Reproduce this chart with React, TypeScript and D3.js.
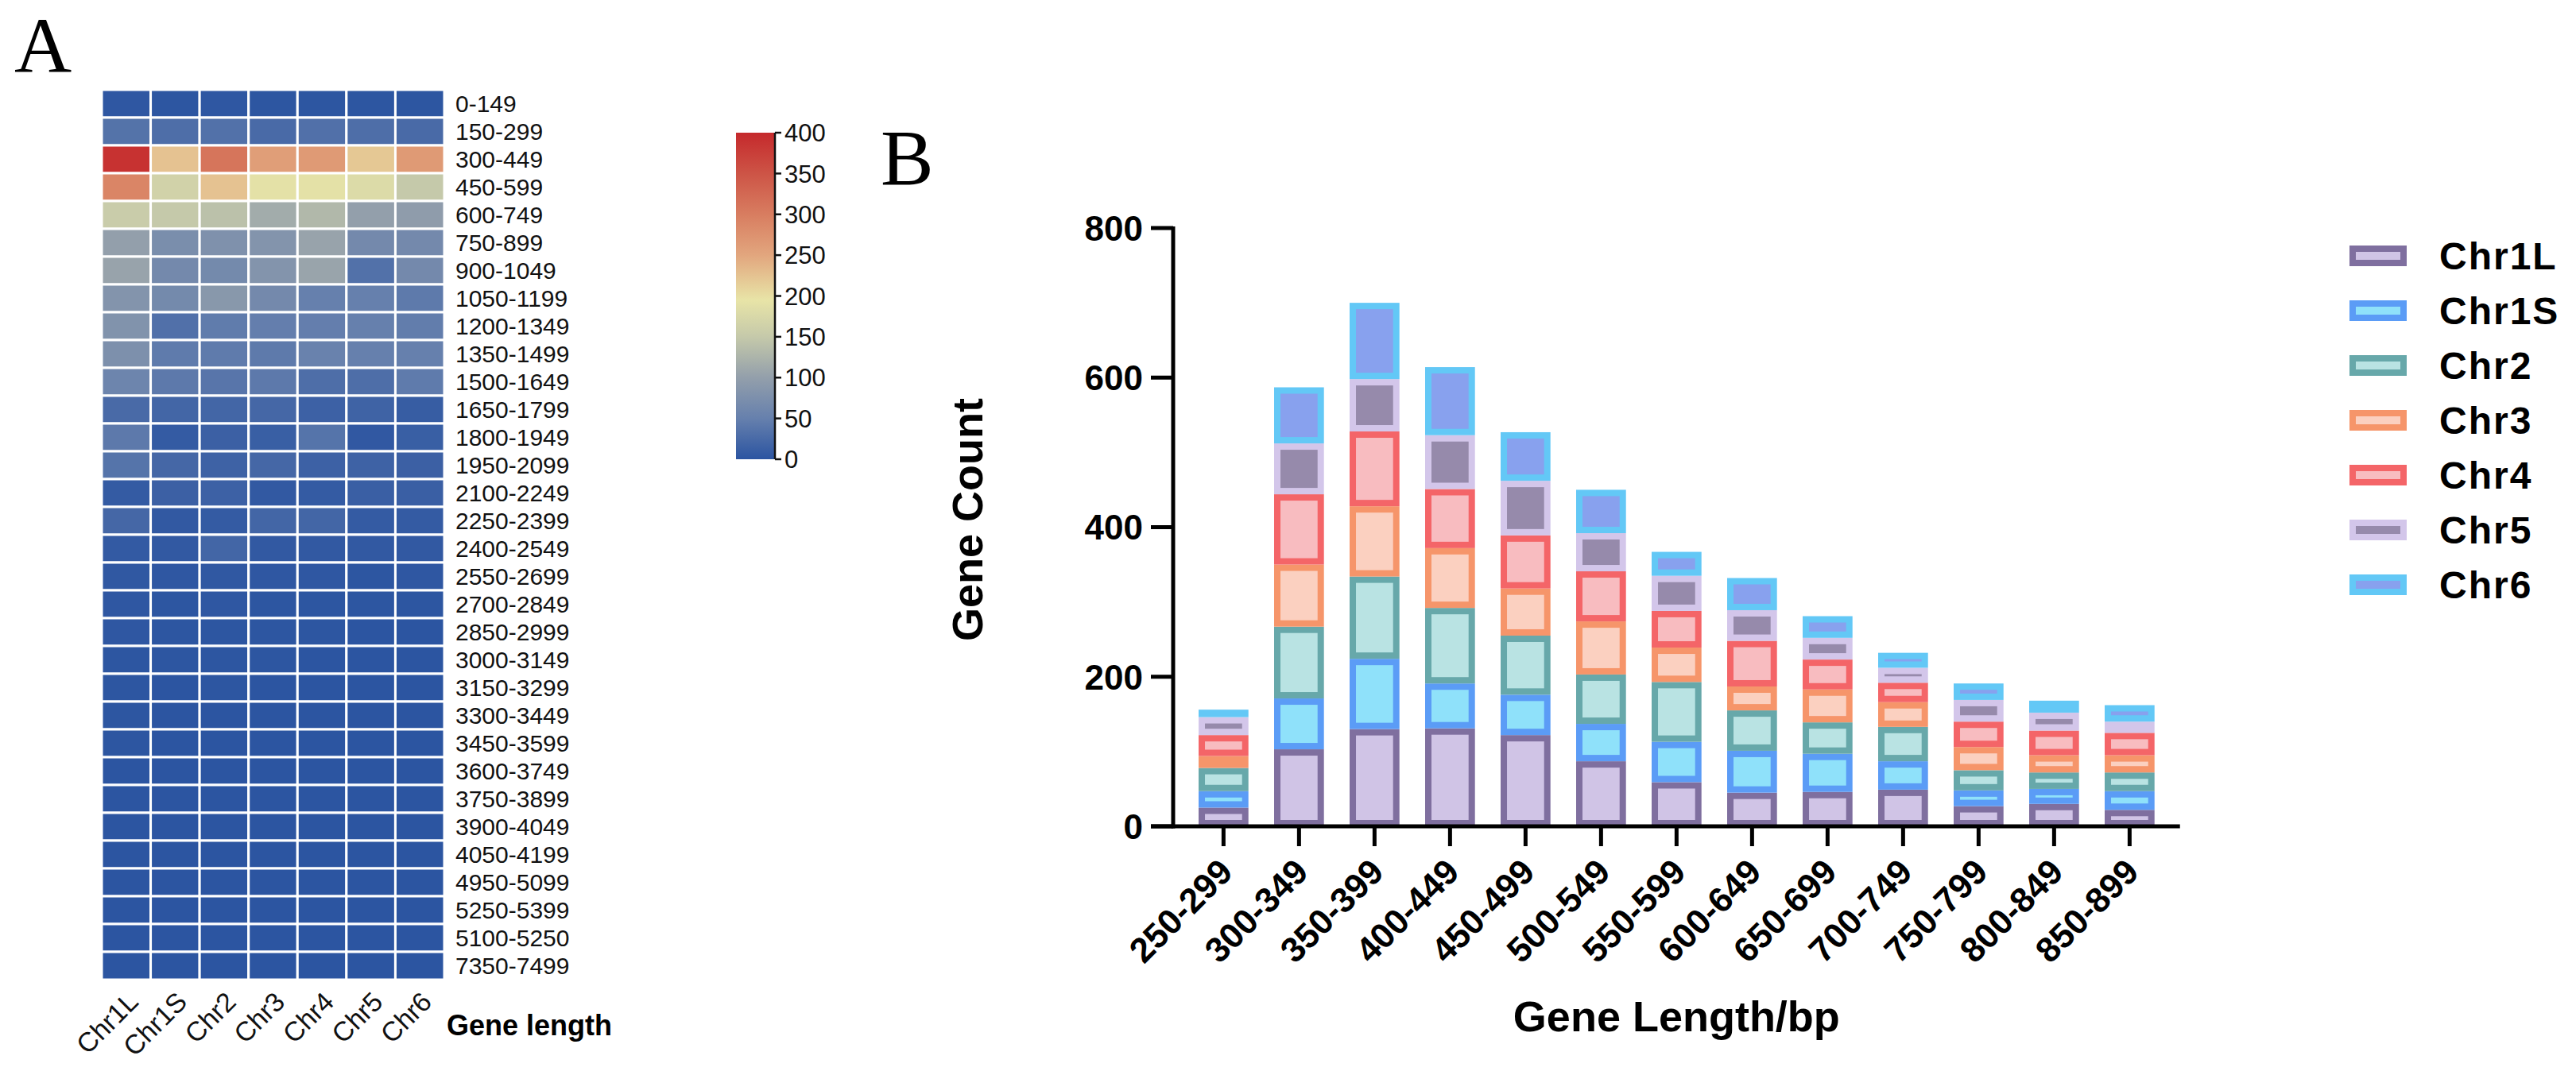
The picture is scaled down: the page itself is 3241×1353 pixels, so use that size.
import * as d3 from "d3";

// ---------- panel A: heatmap data ----------
const chromosomes = ["Chr1L", "Chr1S", "Chr2", "Chr3", "Chr4", "Chr5", "Chr6"];

const lengthBins = [
  "0-149", "150-299", "300-449", "450-599", "600-749", "750-899", "900-1049",
  "1050-1199", "1200-1349", "1350-1499", "1500-1649", "1650-1799", "1800-1949",
  "1950-2099", "2100-2249", "2250-2399", "2400-2549", "2550-2699", "2700-2849",
  "2850-2999", "3000-3149", "3150-3299", "3300-3449", "3450-3599", "3600-3749",
  "3750-3899", "3900-4049", "4050-4199", "4950-5099", "5250-5399", "5100-5250",
  "7350-7499",
];

const heatChr1L = [3, 35, 390, 290, 155, 100, 105, 82, 80, 75, 58, 25, 42, 36, 8, 22, 7, 4, 3, 3, 2, 2, 2, 2, 1, 1, 1, 1, 1, 1, 1, 1];
const heatChr1S = [2, 30, 225, 165, 150, 72, 65, 66, 32, 44, 42, 20, 8, 22, 14, 6, 6, 3, 2, 2, 2, 1, 1, 1, 1, 1, 1, 1, 1, 1, 1, 1];
const heatChr2 = [3, 33, 310, 225, 140, 78, 66, 88, 45, 44, 38, 20, 14, 16, 15, 8, 20, 4, 3, 2, 2, 2, 1, 1, 1, 1, 1, 1, 1, 1, 1, 1];
const heatChr3 = [2, 25, 260, 190, 115, 82, 82, 65, 48, 43, 42, 22, 12, 22, 6, 20, 6, 3, 2, 2, 2, 1, 1, 1, 1, 1, 1, 1, 1, 1, 1, 1];
const heatChr4 = [2, 32, 265, 190, 130, 105, 106, 50, 48, 53, 30, 15, 36, 15, 8, 20, 6, 3, 2, 2, 1, 1, 1, 1, 1, 1, 1, 1, 1, 1, 1, 1];
const heatChr5 = [2, 30, 220, 180, 100, 65, 33, 50, 50, 50, 30, 17, 5, 16, 13, 8, 6, 2, 2, 1, 1, 1, 1, 1, 1, 1, 1, 1, 1, 1, 1, 1];
const heatChr6 = [2, 25, 265, 150, 95, 65, 65, 43, 47, 50, 44, 10, 12, 14, 13, 8, 6, 3, 2, 1, 1, 1, 1, 1, 1, 1, 1, 1, 1, 1, 1, 1];
const heatColumns = [heatChr1L, heatChr1S, heatChr2, heatChr3, heatChr4, heatChr5, heatChr6];

const legendTicks = [0, 50, 100, 150, 200, 250, 300, 350, 400];
const colorStops = [0, 50, 100, 150, 195, 250, 300, 350, 400];
const colorRange = ["#2b54a1", "#6680ad", "#939fab", "#c5c9aa", "#e8e4a7", "#e2a67e", "#d87d60", "#cd5446", "#c5292c"];

// ---------- panel B: stacked bar data ----------
const barBins = [
  "250-299", "300-349", "350-399", "400-449", "450-499", "500-549", "550-599",
  "600-649", "650-699", "700-749", "750-799", "800-849", "850-899",
];
const barChr1L = [25, 103, 130, 131, 122, 87, 59, 45, 46, 49, 27, 30, 22];
const barChr1S = [22, 68, 94, 60, 54, 50, 54, 56, 51, 38, 21, 20, 25];
const barChr2 = [31, 96, 110, 101, 79, 66, 80, 54, 42, 46, 27, 22, 25];
const barChr3 = [16, 83, 94, 80, 63, 71, 46, 32, 44, 33, 31, 23, 23];
const barChr4 = [28, 94, 100, 79, 71, 67, 49, 61, 40, 26, 34, 33, 30];
const barChr5 = [24, 68, 70, 72, 73, 51, 47, 41, 29, 20, 29, 24, 15];
const barChr6 = [10, 75, 102, 91, 65, 58, 32, 43, 29, 20, 22, 16, 22];
const barSeries = [barChr1L, barChr1S, barChr2, barChr3, barChr4, barChr5, barChr6];
const yTicks = [0, 200, 400, 600, 800];

const fills = ["#d0c4e6", "#8fe1fa", "#b9e3e3", "#fbd0c0", "#f8bcc0", "#968aab", "#88a1ee"];
const strokes = ["#7f6f9f", "#5b9cf6", "#67a8aa", "#f6956a", "#f46568", "#d3c6ea", "#63c8f6"];

const W = 3241;
const H = 1353;
const SANS = "'Liberation Sans', Arial, sans-serif";
const SERIF = "'Liberation Serif', 'Times New Roman', serif";

function Heatmap() {
  const left = 128, top = 113, right = 559, bottom = 1233;
  const x = d3.scaleBand<string>().domain(chromosomes).range([left, right]);
  const y = d3.scaleBand<string>().domain(lengthBins).range([top, bottom]);
  const color = d3.scaleLinear<string>().domain(colorStops).range(colorRange).clamp(true);

  const cbX = 926, cbW = 49;
  const cb = d3.scaleLinear().domain([0, 400]).range([578, 167]);

  return (
    <g>
      <text x={18} y={91} fontFamily={SERIF} fontSize={100}>A</text>
      {chromosomes.map((c, ci) =>
        lengthBins.map((b, ri) => (
          <rect key={c + b} x={x(c)} y={y(b)} width={x.bandwidth()} height={y.bandwidth()}
            fill={color(heatColumns[ci][ri])} stroke="#ffffff" strokeWidth={3} />
        ))
      )}
      {lengthBins.map((b) => (
        <text key={b} x={right + 14} y={(y(b) ?? 0) + y.bandwidth() / 2} dy="0.36em"
          fontFamily={SANS} fontSize={30} fill="#111">{b}</text>
      ))}
      {chromosomes.map((c) => {
        const cx = (x(c) ?? 0) + x.bandwidth() / 2 + 17;
        return (
          <text key={c} transform={`translate(${cx},${bottom + 30}) rotate(-45)`} textAnchor="end"
            fontFamily={SANS} fontSize={34} fill="#111">{c}</text>
        );
      })}
      <text x={562} y={1303} fontFamily={SANS} fontWeight="bold" fontSize={36}>Gene length</text>

      <defs>
        <linearGradient id="heatGrad" x1="0" y1="1" x2="0" y2="0">
          {colorStops.map((s, i) => (
            <stop key={s} offset={`${(s / 400) * 100}%`} stopColor={colorRange[i]} />
          ))}
        </linearGradient>
      </defs>
      <rect x={cbX} y={cb(400)} width={cbW} height={cb(0) - cb(400)} fill="url(#heatGrad)" />
      <line x1={cbX + cbW} x2={cbX + cbW} y1={cb(400)} y2={cb(0)} stroke="#111" strokeWidth={2.5} />
      {legendTicks.map((t) => (
        <g key={t}>
          <line x1={cbX + cbW} x2={cbX + cbW + 8} y1={cb(t)} y2={cb(t)} stroke="#111" strokeWidth={2.5} />
          <text x={cbX + cbW + 12} y={cb(t)} dy="0.36em" fontFamily={SANS} fontSize={31} fill="#111">{t}</text>
        </g>
      ))}
    </g>
  );
}

function StackedBars() {
  const axisX = 1476;
  const step = 95;
  const x = d3.scaleBand<string>().domain(barBins).range([axisX, axisX + step * 13.334])
    .paddingInner(0.34).paddingOuter(0.337);
  const y = d3.scaleLinear().domain([0, 800]).range([1040, 287]);

  const rows = barBins.map((b, i) => {
    const r: Record<string, number | string> = { bin: b };
    chromosomes.forEach((c, ci) => { r[c] = barSeries[ci][i]; });
    return r;
  });
  const stacked = d3.stack<Record<string, number | string>>().keys(chromosomes)(rows);
  const sw = 8;
  const xEnd = axisX + step * 13.334;

  return (
    <g>
      <text x={1108} y={232} fontFamily={SERIF} fontSize={100}>B</text>

      {stacked.map((layer, li) => (
        <g key={layer.key}>
          {layer.map((d) => {
            const bx = x(d.data.bin as string) ?? 0;
            const y0 = y(d[0]);
            const y1 = y(d[1]);
            return (
              <rect key={d.data.bin as string} x={bx + sw / 2} y={y1 + sw / 2}
                width={x.bandwidth() - sw} height={Math.max(0, y0 - y1 - sw)}
                fill={fills[li]} stroke={strokes[li]} strokeWidth={sw} />
            );
          })}
        </g>
      ))}

      {/* axes */}
      <line x1={axisX} x2={axisX} y1={y(800) - 2} y2={y(0) + 2.5} stroke="#000" strokeWidth={5} />
      <line x1={axisX - 28} x2={xEnd} y1={y(0)} y2={y(0)} stroke="#000" strokeWidth={5} />
      {yTicks.map((t) => (
        <g key={t}>
          <line x1={axisX - 28} x2={axisX} y1={y(t)} y2={y(t)} stroke="#000" strokeWidth={5} />
          <text x={axisX - 38} y={y(t)} dy="0.36em" textAnchor="end" fontFamily={SANS}
            fontWeight="bold" fontSize={44}>{t}</text>
        </g>
      ))}
      {barBins.map((b) => {
        const cx = (x(b) ?? 0) + x.bandwidth() / 2;
        return (
          <g key={b}>
            <line x1={cx} x2={cx} y1={y(0)} y2={y(0) + 25} stroke="#000" strokeWidth={5} />
            <text transform={`translate(${cx + 14},${y(0) + 60}) rotate(-45)`} textAnchor="end"
              fontFamily={SANS} fontWeight="bold" fontSize={44}>{b}</text>
          </g>
        );
      })}
      <text transform={`translate(1236,654) rotate(-90)`} textAnchor="middle" fontFamily={SANS}
        fontWeight="bold" fontSize={54}>Gene Count</text>
      <text x={(axisX + xEnd) / 2} y={1298} textAnchor="middle" fontFamily={SANS} fontWeight="bold"
        fontSize={54}>Gene Length/bp</text>

      {/* legend */}
      {chromosomes.map((c, i) => {
        const cy = 322 + i * 69;
        return (
          <g key={c}>
            <rect x={2956 + sw / 2} y={cy - 13 + sw / 2} width={72 - sw} height={26 - sw}
              fill={fills[i]} stroke={strokes[i]} strokeWidth={sw} />
            <text x={3069} y={cy} dy="0.36em" fontFamily={SANS} fontWeight="bold" fontSize={48}
              letterSpacing={2}>{c}</text>
          </g>
        );
      })}
    </g>
  );
}

export default function App() {
  return (
    <svg width={W} height={H} viewBox={`0 0 ${W} ${H}`}
      style={{ position: "absolute", left: 0, top: 0, background: "#fff" }}>
      <rect width={W} height={H} fill="#fff" />
      <Heatmap />
      <StackedBars />
    </svg>
  );
}
